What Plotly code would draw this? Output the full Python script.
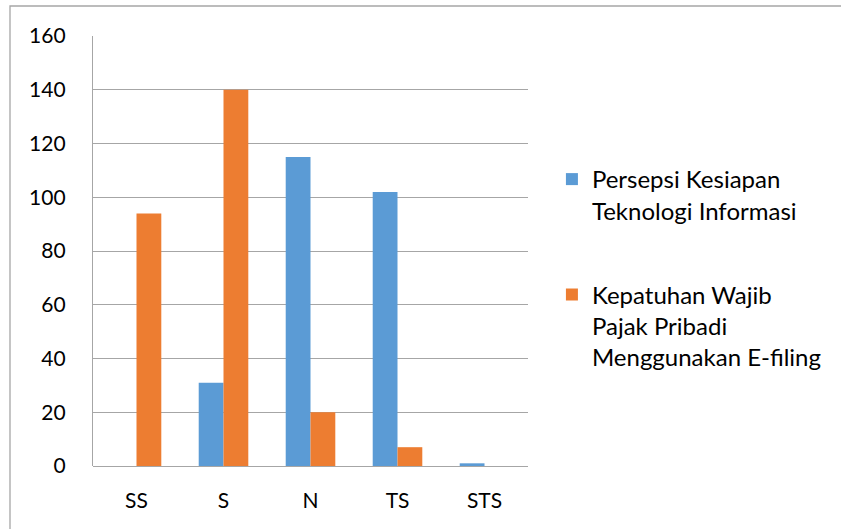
import plotly.graph_objects as go

# Response categories on the Likert scale
categories = ["SS", "S", "N", "TS", "STS"]

# Respondent counts per category for each variable
persepsi_ti = [0, 31, 115, 102, 1]
kepatuhan_efiling = [94, 140, 20, 7, 0]

series_names = [
    "Persepsi Kesiapan<br>Teknologi Informasi",
    "Kepatuhan Wajib<br>Pajak Pribadi<br>Menggunakan E-filing",
]

y_ticks = [0, 20, 40, 60, 80, 100, 120, 140, 160]

FONT = "Lato, 'Open Sans', sans-serif"
GRID = "#a6a6a6"

fig = go.Figure()
fig.add_trace(go.Bar(x=categories, y=persepsi_ti, name=series_names[0],
                     legendgroup="persepsi",
                     marker=dict(color="#5B9BD5", line=dict(width=0))))
fig.add_trace(go.Bar(x=categories, y=kepatuhan_efiling, name=series_names[1],
                     legendgroup="kepatuhan",
                     marker=dict(color="#ED7D31", line=dict(width=0))))

fig.update_layout(
    width=841, height=529,
    margin=dict(l=93, r=313, t=36, b=63),
    paper_bgcolor="white", plot_bgcolor="white",
    barmode="group", bargap=0.43, bargroupgap=0,
    font=dict(family=FONT, size=21, color="#000000"),
    showlegend=True,
    legend=dict(
        x=1.055, xanchor="left", y=0.7186, yanchor="top",
        valign="top", tracegroupgap=50,
        font=dict(family=FONT, size=24, color="#000000"),
        bgcolor="rgba(0,0,0,0)",
    ),
    xaxis=dict(
        showgrid=False, showline=False, ticks="",
        tickfont=dict(family=FONT, size=21), ticklabelstandoff=20,
    ),
    yaxis=dict(
        range=[0, 160], tickvals=y_ticks,
        showgrid=True, gridcolor=GRID, gridwidth=1.3,
        showline=True, linecolor=GRID, linewidth=1.3,
        zeroline=True, zerolinecolor=GRID, zerolinewidth=1.3,
        ticks="", tickfont=dict(family=FONT, size=21), ticklabelstandoff=22,
    ),
    shapes=[dict(
        type="rect", xref="paper", yref="paper",
        x0=-83 / 435, x1=1.8, y0=-0.5, y1=1 + 30 / 430,
        line=dict(color="#a6a6a6", width=1.3), fillcolor="rgba(0,0,0,0)",
        layer="below",
    )],
)

fig.write_html("out.html")
